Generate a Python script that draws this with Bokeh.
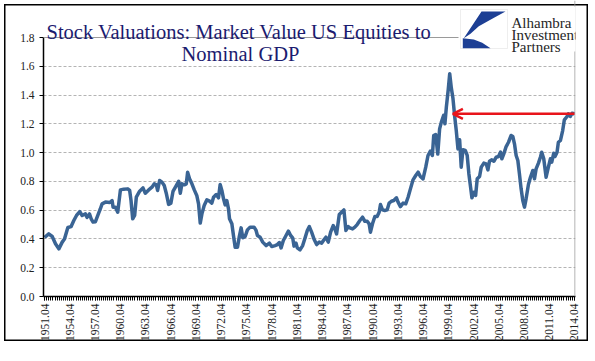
import math
from bokeh.plotting import figure
from bokeh.models import (Label, BoxAnnotation, PolyAnnotation, Arrow, OpenHead,
                          FixedTicker, Range1d, Span)
from bokeh.embed import file_html
from bokeh.resources import INLINE

# ---------------- data ----------------
years = [1951.75, 1952.25, 1952.66, 1953.05, 1953.45, 1953.85, 1954.12, 1954.52, 1954.91, 1955.23,
         1955.55, 1955.94, 1956.22, 1956.61, 1956.81, 1957.09, 1957.29, 1957.52, 1957.8, 1958.08,
         1958.39, 1958.59, 1958.99, 1959.5, 1959.78, 1959.9, 1960.18, 1960.45, 1960.77, 1961.16,
         1961.64, 1961.87, 1962.03, 1962.23, 1962.46, 1962.66, 1963.06, 1963.45, 1963.73, 1964.13,
         1964.52, 1964.8, 1965.04, 1965.19, 1965.43, 1965.71, 1965.98, 1966.22, 1966.5, 1966.77,
         1967.02, 1967.41, 1967.69, 1967.89, 1968.08, 1968.36, 1968.6, 1968.76, 1968.99, 1969.27,
         1969.55, 1969.86, 1970.06, 1970.26, 1970.46, 1970.73, 1971.05, 1971.37, 1971.64, 1971.84,
         1972.16, 1972.43, 1972.63, 1972.83, 1973.03, 1973.22, 1973.42, 1973.62, 1973.74, 1974.02,
         1974.21, 1974.41, 1974.69, 1974.89, 1975.12, 1975.32, 1975.6, 1975.87, 1976.19, 1976.66,
         1976.9, 1977.06, 1977.38, 1977.69, 1978.09, 1978.48, 1978.76, 1979.16, 1979.43, 1979.67,
         1979.87, 1980.14, 1980.46, 1980.74, 1981.01, 1981.25, 1981.41, 1981.65, 1981.8, 1982.12,
         1982.44, 1982.71, 1982.99, 1983.23, 1983.5, 1983.78, 1984.1, 1984.41, 1984.69, 1984.97,
         1985.2, 1985.48, 1985.76, 1986.07, 1986.27, 1986.47, 1986.79, 1987.06, 1987.34, 1987.58,
         1987.85, 1988.05, 1988.37, 1988.64, 1988.92, 1989.24, 1989.55, 1989.83, 1990.11, 1990.34,
         1990.5, 1990.74, 1991.02, 1991.29, 1991.53, 1991.69, 1991.93, 1992.2, 1992.48, 1992.72,
         1992.99, 1993.27, 1993.59, 1993.78, 1994.06, 1994.38, 1994.69, 1994.97, 1995.25, 1995.56,
         1995.88, 1996.16, 1996.43, 1996.75, 1997.07, 1997.34, 1997.62, 1997.86, 1998.02, 1998.25,
         1998.5, 1998.72, 1998.92, 1999.2, 1999.35, 1999.52, 1999.75, 1999.92, 2000.11, 2000.3,
         2000.5, 2000.7, 2000.9, 2001.1, 2001.29, 2001.49, 2001.77, 2002.0, 2002.2, 2002.4,
         2002.56, 2002.8, 2003.0, 2003.19, 2003.47, 2003.67, 2003.98, 2004.26, 2004.46, 2004.65,
         2004.93, 2005.17, 2005.45, 2005.72, 2005.96, 2006.12, 2006.35, 2006.63, 2006.91, 2007.22,
         2007.42, 2007.62, 2007.82, 2008.02, 2008.21, 2008.41, 2008.61, 2008.81, 2009.0, 2009.28,
         2009.52, 2009.8, 2010.0, 2010.19, 2010.47, 2010.7, 2010.86, 2011.1, 2011.38, 2011.65,
         2011.89, 2012.05, 2012.29, 2012.44, 2012.68, 2012.84, 2013.08, 2013.35, 2013.55, 2013.87,
         2014.03, 2014.26, 2014.46, 2014.75]

values = [0.41, 0.435, 0.417, 0.366, 0.331, 0.378, 0.40, 0.48, 0.486, 0.528,
          0.563, 0.59, 0.563, 0.574, 0.55, 0.574, 0.54, 0.517, 0.52, 0.563,
          0.61, 0.644, 0.656, 0.653, 0.667, 0.62, 0.62, 0.586, 0.741, 0.746,
          0.748, 0.737, 0.667, 0.54, 0.563, 0.69, 0.732, 0.755, 0.718, 0.741,
          0.76, 0.783, 0.776, 0.737, 0.806, 0.795, 0.771, 0.718, 0.64, 0.649,
          0.73, 0.771, 0.80, 0.718, 0.783, 0.776, 0.783, 0.864, 0.818, 0.783,
          0.741, 0.70, 0.644, 0.51, 0.574, 0.632, 0.672, 0.663, 0.649, 0.69,
          0.709, 0.686, 0.778, 0.737, 0.679, 0.637, 0.667, 0.609, 0.54, 0.505,
          0.424, 0.343, 0.343, 0.412, 0.477, 0.408, 0.417, 0.463, 0.482, 0.482,
          0.459, 0.424, 0.412, 0.378, 0.354, 0.371, 0.347, 0.354, 0.361, 0.375,
          0.338, 0.389, 0.424, 0.454, 0.424, 0.408, 0.35, 0.371, 0.338, 0.324,
          0.354, 0.405, 0.459, 0.486, 0.447, 0.40, 0.361, 0.378, 0.371, 0.394,
          0.412, 0.378, 0.447, 0.493, 0.47, 0.435, 0.57, 0.586, 0.602, 0.459,
          0.486, 0.477, 0.47, 0.482, 0.50, 0.528, 0.551, 0.523, 0.523, 0.505,
          0.447, 0.505, 0.556, 0.556, 0.586, 0.639, 0.602, 0.598, 0.602, 0.649,
          0.662, 0.667, 0.686, 0.656, 0.625, 0.649, 0.644, 0.69, 0.748, 0.811,
          0.841, 0.864, 0.834, 0.818, 0.899, 0.98, 1.01, 0.98, 1.119, 1.126,
          0.99, 1.165, 1.21, 1.26, 1.20, 1.316, 1.44, 1.548, 1.45, 1.38,
          1.258, 1.153, 1.026, 1.089, 0.899, 1.02, 1.015, 0.98, 0.852, 0.76,
          0.686, 0.725, 0.702, 0.818, 0.834, 0.899, 0.927, 0.922, 0.88, 0.94,
          0.95, 0.94, 0.968, 0.973, 1.003, 0.957, 0.991, 1.042, 1.072, 1.119,
          1.112, 1.061, 0.98, 0.945, 0.852, 0.748, 0.667, 0.621, 0.679, 0.778,
          0.829, 0.876, 0.818, 0.887, 0.927, 0.968, 1.003, 0.957, 0.829, 0.899,
          0.957, 0.934, 0.996, 0.973, 1.003, 1.072, 1.084, 1.153, 1.228, 1.251,
          1.269, 1.251, 1.274, 1.27]

x_tick_labels = ["1951.04", "1954.04", "1957.04", "1960.04", "1963.04", "1966.04",
                 "1969.04", "1972.04", "1975.04", "1978.04", "1981.04", "1984.04",
                 "1987.04", "1990.04", "1993.04", "1996.04", "1999.04", "2002.04",
                 "2005.04", "2008.04", "2011.04", "2014.04"]
y_tick_values = [0.0, 0.2, 0.4, 0.6, 0.8, 1.0, 1.2, 1.4, 1.6, 1.8]

title_line1 = "Stock Valuations:  Market Value US Equities to"
title_line2 = "Nominal GDP"
logo_lines = ["Alhambra", "Investment", "Partners"]
arrow_target_year = 2000.3

# ---------------- layout ----------------
X0, X1 = 1951.75 - 0.125, 2014.75 + 0.125
Y0, Y1 = 0.0, 1.8
PL, PR, PT, PB = 43, 575, 37, 296   # plot area (canvas pixels) for 0..1.8
W, H = 592, 345
TOP = 0                              # frame extends to canvas top for the title/logo


def px(xp):
    return X0 + (xp - PL) / (PR - PL) * (X1 - X0)


def py(yp):
    return Y0 + (PB - yp) / (PB - PT) * (Y1 - Y0)


def q_pos(label):
    return int(label[:4]) + (int(label[5:]) - 1) / 4.0


x_ticks = [q_pos(s) for s in x_tick_labels]
quarters = [1951.75 + 0.25 * i for i in range(int(round((2014.75 - 1951.75) * 4)) + 1)]

p = figure(frame_width=PR - PL, frame_height=PB - TOP,
           x_range=Range1d(X0, X1), y_range=Range1d(Y0, py(TOP)),
           output_backend="svg", toolbar_location=None,
           min_border_left=PL, min_border_right=W - PR,
           min_border_top=TOP, min_border_bottom=H - PB,
           background_fill_alpha=0, border_fill_alpha=0)
# outer chart border (drawn by the page behind the transparent canvas)
p.styles = {"box-shadow": "inset 0 0 0 4px #ffffff, inset 0 0 0 5.5px #000000",
            "background-color": "#ffffff"}
p.outline_line_color = None

# grid
p.xgrid.visible = False
p.ygrid.ticker = FixedTicker(ticks=y_tick_values[1:-1])
p.ygrid.grid_line_color = "#b4b4b4"
p.ygrid.grid_line_dash = "3 2"
p.ygrid.grid_line_width = 1
# plot-area border (top and right, solid grey)
p.add_layout(Span(location=Y1, dimension="width", line_color="#9a9a9a", line_width=1))
p.add_layout(Span(location=px(PR - 0.5), dimension="height", line_color="#9a9a9a", line_width=1))

# y axis
p.yaxis.ticker = FixedTicker(ticks=y_tick_values)
p.yaxis.bounds = (Y0, Y1)
p.yaxis.major_label_overrides = {v: f"{v:.1f}" for v in y_tick_values}
p.yaxis.axis_line_color = "black"
p.yaxis.axis_line_width = 1.5
p.yaxis.major_tick_out = 4
p.yaxis.major_tick_in = 0
p.yaxis.minor_tick_line_color = None
p.yaxis.major_label_text_font = "Liberation Serif"
p.yaxis.major_label_text_font_size = "11.5px"
p.yaxis.major_label_text_color = "#222222"
p.yaxis.major_label_standoff = 5

# x axis
p.xaxis.ticker = FixedTicker(ticks=x_ticks, minor_ticks=quarters)
p.xaxis.major_label_overrides = {t: s for t, s in zip(x_ticks, x_tick_labels)}
p.xaxis.major_label_orientation = math.pi / 2
p.xaxis.axis_line_color = "black"
p.xaxis.axis_line_width = 1.5
p.xaxis.major_tick_out = 4
p.xaxis.major_tick_in = 0
p.xaxis.minor_tick_out = 4
p.xaxis.minor_tick_in = 0
p.xaxis.minor_tick_line_color = "black"
p.xaxis.major_label_text_font = "Liberation Serif"
p.xaxis.major_label_text_font_size = "11.5px"
p.xaxis.major_label_text_color = "#222222"
p.xaxis.major_label_standoff = 3

# series
p.line(years, values, line_color="#3a6494", line_width=3.5, line_join="round")

# arrow
p.add_layout(Arrow(end=OpenHead(size=10, line_color="#e8141b", line_width=2.5),
                   x_start=years[-1], y_start=values[-1],
                   x_end=arrow_target_year, y_end=values[-1],
                   line_color="#e8141b", line_width=2.5))

# title
p.add_layout(Label(x=px(241), y=py(31.5), text=title_line1, text_align="center",
                   text_baseline="alphabetic", text_font="Liberation Serif",
                   text_font_size="20.5px", text_color="#1b1b6f"))
p.add_layout(Label(x=px(240), y=py(53), text=title_line2, text_align="center",
                   text_baseline="alphabetic", text_font="Liberation Serif",
                   text_font_size="20.5px", text_color="#1b1b6f"))

# logo area
p.add_layout(BoxAnnotation(left=px(458), right=px(586.5), top=py(6), bottom=py(51),
                           fill_color="white", fill_alpha=1, line_alpha=0, level="overlay"))
p.add_layout(BoxAnnotation(left=px(460), right=px(507), top=py(9), bottom=py(48),
                           fill_alpha=0, line_color="#c8c8c8", line_width=1, level="overlay"))
sail = [(481, 11), (505, 11), (491.7, 18.3), (478.3, 25.7), (470, 33.3), (463.3, 37.7)]
wedge = [(462.3, 37.7), (462.3, 47.7), (490, 47.7), (481.7, 42.3), (473.3, 39), (466.7, 38.3)]
for shape in (sail, wedge):
    p.add_layout(PolyAnnotation(xs=[px(a) for a, b in shape], ys=[py(b) for a, b in shape],
                                fill_color="#1d3f94", fill_alpha=1, line_alpha=0, level="overlay"))
for txt, base in zip(logo_lines, [22, 34, 46]):
    p.add_layout(Label(x=px(511), y=py(base), text=txt, text_align="left",
                       text_baseline="alphabetic", text_font="Liberation Serif",
                       text_font_size="15px", text_color="#262626", level="overlay"))

open("out.html", "w").write(file_html(p, INLINE))
